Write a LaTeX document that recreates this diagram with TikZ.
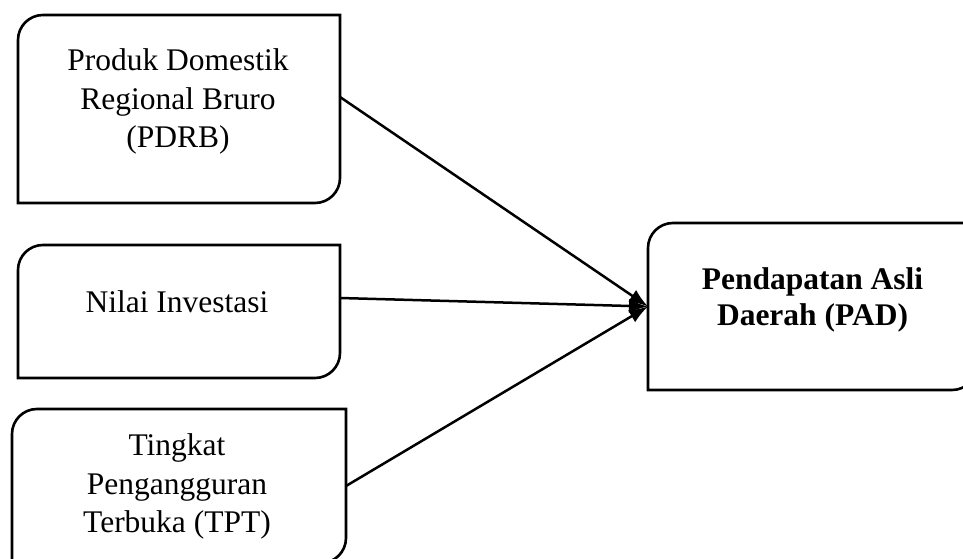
\documentclass[tikz,border=0pt]{standalone}
\usepackage{fontspec}
\setmainfont{Liberation Serif}
\usetikzlibrary{arrows.meta}
\tikzset{
  boxshape/.style={rectangle, draw=none, inner sep=0pt, outer sep=0pt},
  boxline/.style={line width=2.6pt, black},
  lbl/.style={align=center, inner sep=0pt, font=\fontsize{31.5}{38.5}\selectfont},
  conn/.style={line width=2.5pt, -{Latex[length=19pt,width=14pt]}}
}
\newcommand\roundbox[1]{\draw[boxline] (#1.south west) -- ([yshift=-25pt]#1.north west) arc[start angle=180,end angle=90,radius=25pt] -- (#1.north east) -- ([yshift=25pt]#1.south east) arc[start angle=0,end angle=-90,radius=25pt] -- cycle;}
\begin{document}
\begin{tikzpicture}[x=1pt,y=1pt]
\useasboundingbox (0,0) rectangle (963,559);
\clip (0,0) rectangle (963,559);
\node[boxshape, minimum width=322pt, minimum height=188pt] (pdrb) at (179,450) {};
\node[boxshape, minimum width=322pt, minimum height=133pt] (inv) at (179,247.5) {};
\node[boxshape, minimum width=334pt, minimum height=154pt] (tpt) at (179,73) {};
\node[boxshape, minimum width=329pt, minimum height=167pt] (pad) at (812.5,252.5) {};
\roundbox{pdrb}
\roundbox{inv}
\roundbox{tpt}
\roundbox{pad}
\node[lbl] (pdrbt) at (178,457.5) {Produk Domestik\\Regional Bruro\\(PDRB)};
\node[lbl] (invt) at (177,257.5) {Nilai Investasi};
\node[lbl] (tptt) at (177,72.5) {Tingkat\\Pengangguran\\Terbuka (TPT)};
\node[lbl, font=\fontsize{31.5}{36}\selectfont\bfseries] (padt) at (812.5,259) {Pendapatan Asli\\Daerah (PAD)};
\draw[conn] ([yshift=12pt]pdrb.east) -- (pad.west);
\draw[conn] ([yshift=13.5pt]inv.east) -- (pad.west);
\draw[conn] (tpt.east) -- (pad.west);
\end{tikzpicture}
\end{document}
